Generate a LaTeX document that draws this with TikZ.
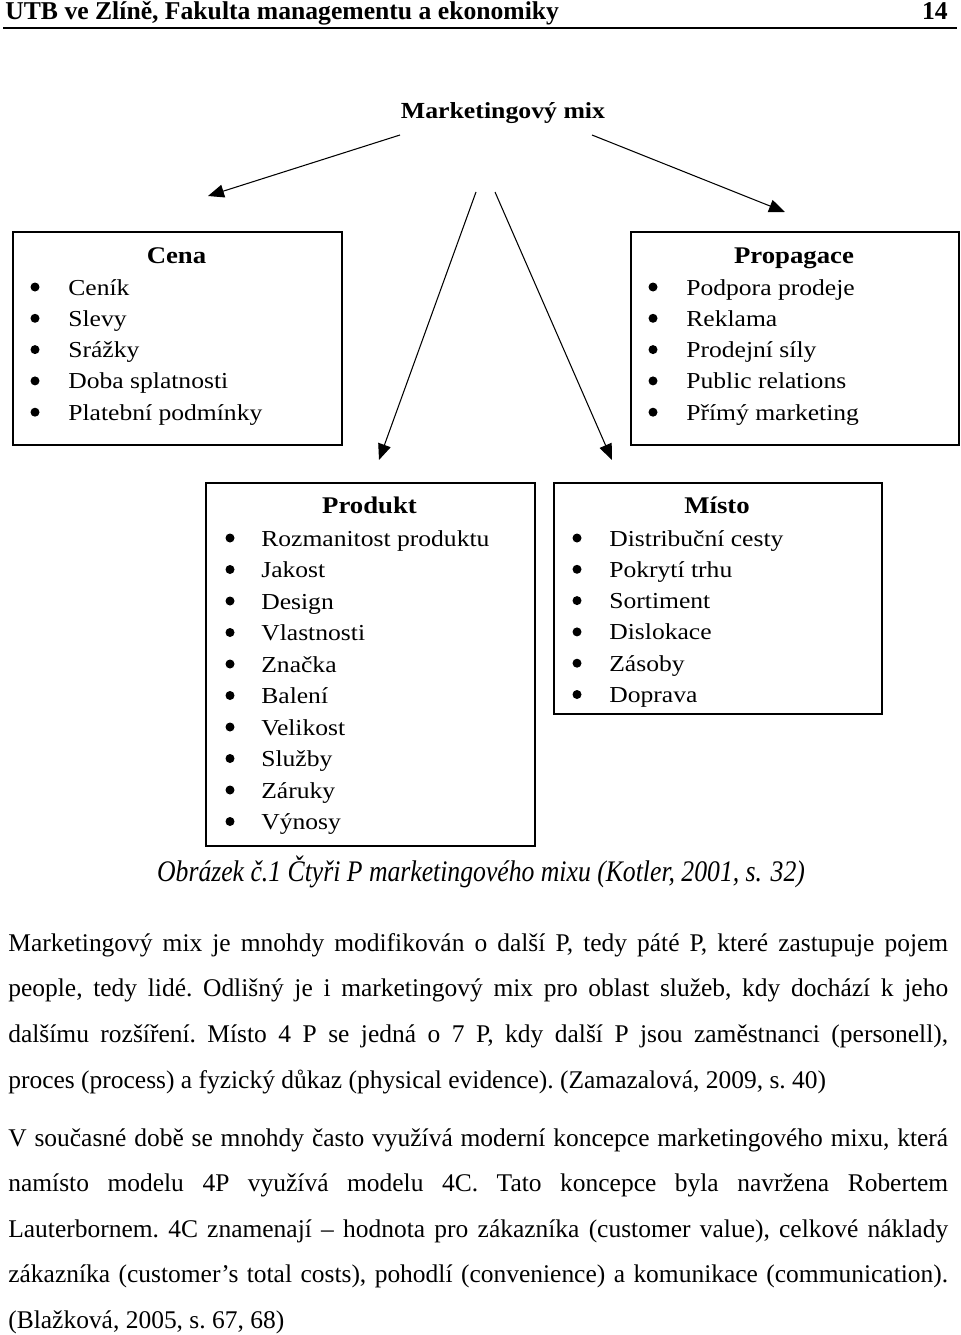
\documentclass[tikz,border=0pt]{standalone}
\usepackage{fontspec}
\setmainfont{Liberation Serif}
\newfontfamily\diagfont[FakeStretch=1.12]{Liberation Serif}
\newfontfamily\capfont[FakeStretch=0.86]{Liberation Serif}
\usetikzlibrary{arrows.meta, positioning, calc}

\tikzset{
  box/.style = {rectangle, draw, line width=0.9pt, anchor=north west, inner sep=0pt},
  boxtitle/.style = {anchor=base, inner sep=0pt, font=\diagfont\bfseries\fontsize{13.6}{16}\selectfont},
  item/.style = {anchor=base west, inner sep=0pt, font=\diagfont\fontsize{13}{15}\selectfont},
  bodyline/.style = {anchor=base west, inner sep=0pt, font=\fontsize{14.5}{17}\selectfont\frenchspacing},
  arrow/.style = {-{Triangle[length=0.32cm, width=0.26cm]}, line width=0.6pt}
}
\newcommand{\jline}[1]{\hbox to 18.8cm{#1}}

\begin{document}
\begin{tikzpicture}[x=0.02cm, y=-0.02cm]
    \useasboundingbox (0,0) rectangle (960,1335);

    % Page header
    \node[anchor=base west, inner sep=0pt, font=\bfseries\fontsize{14.6}{16}\selectfont] (head) at (5,20) {UTB ve Zlíně, Fakulta managementu a ekonomiky};
    \node[anchor=base east, inner sep=0pt, font=\bfseries\fontsize{14.6}{16}\selectfont] (pagenum) at (948,20) {14};
    \draw[line width=1.1pt] (3,28) -- (957,28);

    % Marketing mix
    \node[anchor=base, inner sep=0pt, font=\diagfont\bfseries\fontsize{13.1}{16}\selectfont] (mix) at (503,118) {Marketingový mix};

    % Boxes
    \node[box, minimum width=6.58cm, minimum height=4.26cm] (cena) at (12,231) {};
    \node[box, minimum width=6.56cm, minimum height=4.26cm] (propagace) at (630,231) {};
    \node[box, minimum width=6.58cm, minimum height=7.26cm] (produkt) at (205,482) {};
    \node[box, minimum width=6.56cm, minimum height=4.62cm] (misto) at (553,482) {};

    \node[boxtitle] (cenaT) at (176.5,263) {Cena};
    \node[boxtitle] (propagaceT) at (794,263) {Propagace};
    \node[boxtitle] (produktT) at (369.5,513) {Produkt};
    \node[boxtitle] (mistoT) at (717,513) {Místo};

    % Items
    \foreach \txt [count=\i from 0] in {Ceník, Slevy, Srážky, Doba splatnosti, Platební podmínky} {
        \fill (35,287+31.3*\i) circle (4.5);
        \node[item] (cena\i) at (68,295+31.3*\i) {\txt};
    }
    \foreach \txt [count=\i from 0] in {Podpora prodeje, Reklama, Prodejní síly, Public relations, Přímý marketing} {
        \fill (653,287+31.3*\i) circle (4.5);
        \node[item] (propagace\i) at (686,295+31.3*\i) {\txt};
    }
    \foreach \txt [count=\i from 0] in {Rozmanitost produktu, Jakost, Design, Vlastnosti, Značka, Balení, Velikost, Služby, Záruky, Výnosy} {
        \fill (230,538+31.5*\i) circle (4.5);
        \node[item] (produkt\i) at (261,546+31.5*\i) {\txt};
    }
    \foreach \txt [count=\i from 0] in {Distribuční cesty, Pokrytí trhu, Sortiment, Dislokace, Zásoby, Doprava} {
        \fill (577,538+31.3*\i) circle (4.5);
        \node[item] (misto\i) at (609,546+31.3*\i) {\txt};
    }

    % Arrows
    \coordinate (mixL) at (400,135);
    \coordinate (mixR) at (592,135);
    \coordinate (mixCL) at (476,192);
    \coordinate (mixCR) at (495,192);
    \coordinate (toCena) at (208,196);
    \coordinate (toPropagace) at (785,212);
    \coordinate (toProdukt) at (379,460);
    \coordinate (toMisto) at (612,460);
    \draw[arrow] (mixL) -- (toCena);
    \draw[arrow] (mixR) -- (toPropagace);
    \draw[arrow] (mixCL) -- (toProdukt);
    \draw[arrow] (mixCR) -- (toMisto);

    % Caption
    \node[anchor=base, inner sep=0pt, font=\capfont\itshape\fontsize{17}{19}\selectfont] (caption) at (481,881) {Obrázek č.1 Čtyři P marketingového mixu (Kotler, 2001, s. 32)};

    % Text below
    \node[bodyline] (p1a) at (8,951) {\jline{Marketingový mix je mnohdy modifikován o další P, tedy páté P, které zastupuje pojem}};
    \node[bodyline] (p1b) at (8,996.7) {\jline{people, tedy lidé. Odlišný je i marketingový mix pro oblast služeb, kdy dochází k jeho}};
    \node[bodyline] (p1c) at (8,1042.4) {\jline{dalšímu rozšíření. Místo 4 P se jedná o 7 P, kdy další P jsou zaměstnanci (personell),}};
    \node[bodyline] (p1d) at (8,1088) {proces (process) a fyzický důkaz (physical evidence). (Zamazalová, 2009, s. 40)};

    \node[bodyline] (p2a) at (8,1146) {\jline{V současné době se mnohdy často využívá moderní koncepce marketingového mixu, která}};
    \node[bodyline] (p2b) at (8,1191.5) {\jline{namísto modelu 4P využívá modelu 4C. Tato koncepce byla navržena Robertem}};
    \node[bodyline] (p2c) at (8,1237) {\jline{Lauterbornem. 4C znamenají – hodnota pro zákazníka (customer value), celkové náklady}};
    \node[bodyline] (p2d) at (8,1282.5) {\jline{zákazníka (customer’s total costs), pohodlí (convenience) a komunikace (communication).}};
    \node[bodyline] (p2e) at (8,1328) {(Blažková, 2005, s. 67, 68)};
\end{tikzpicture}
\end{document}
